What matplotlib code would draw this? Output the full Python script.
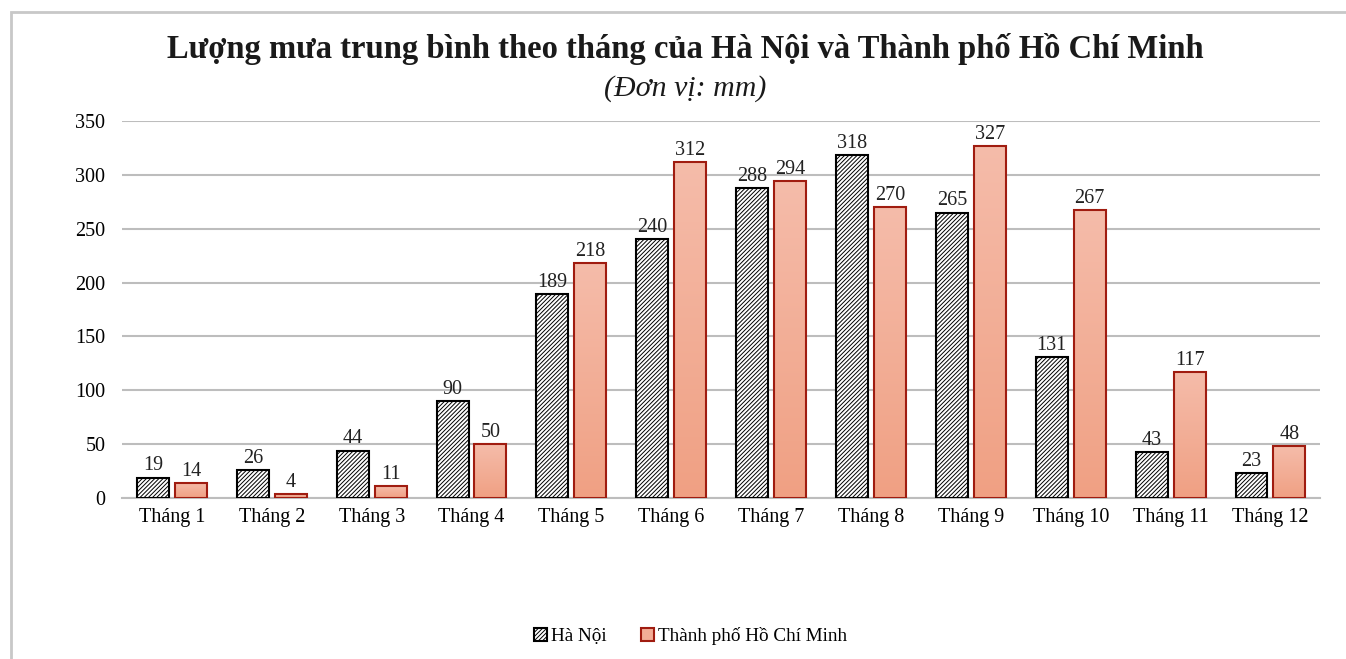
import numpy as np
import matplotlib
matplotlib.use("Agg")
import matplotlib.pyplot as plt
from matplotlib.patches import Rectangle, Patch
from matplotlib.colors import LinearSegmentedColormap

months = ["Tháng %d" % i for i in range(1, 13)]
ha_noi = [19, 26, 44, 90, 189, 240, 288, 318, 265, 131, 43, 23]
hcm = [14, 4, 11, 50, 218, 312, 294, 270, 327, 267, 117, 48]

plt.rcParams['font.family'] = ['Liberation Serif', 'DejaVu Serif']
plt.rcParams['hatch.linewidth'] = 0.7

fig = plt.figure(figsize=(13.46, 6.59), dpi=100)
ax = fig.add_axes([0.0906, 0.2443, 0.8904, 0.5721])

# khung ngoai
fig.patches.append(Rectangle((11 / 1346, -0.05), 1.1, 1 - 12 / 659 + 0.05,
                             transform=fig.transFigure, fill=False,
                             edgecolor='#c8c8c8', linewidth=2))

x = np.arange(len(months))
w = 0.32
off = 0.19
fs = 14.5

ax.bar(x - off, ha_noi, w, facecolor='white', edgecolor='black',
       hatch='////////', linewidth=1.5, zorder=3)

# gradient cho cot TP HCM
grad = np.linspace(0, 1, 256).reshape(-1, 1)
cmap = LinearSegmentedColormap.from_list('sal', ['#f0a083', '#f5bcaa'])
bars = ax.bar(x + off, hcm, w, facecolor='none', edgecolor='#a01c10',
              linewidth=1.5, zorder=4)
for b in bars:
    x0, h = b.get_x(), b.get_height()
    ax.imshow(grad, extent=(x0, x0 + w, 0, h), origin='lower', cmap=cmap,
              aspect='auto', zorder=3, interpolation='bicubic')

for i in range(len(months)):
    ax.text(x[i] - off, ha_noi[i] + 2, str(ha_noi[i]), ha='center', va='bottom',
            fontsize=fs, color='#222222')
    ax.text(x[i] + off, hcm[i] + 2, str(hcm[i]), ha='center', va='bottom',
            fontsize=fs, color='#222222')

ax.set_xlim(-0.5, 11.5)
ax.set_ylim(0, 350)
ax.set_yticks(range(0, 351, 50))
ax.set_xticks(x)
ax.set_xticklabels(months, fontsize=fs)
ax.tick_params(axis='y', labelsize=fs, length=0, pad=12)
ax.tick_params(axis='x', length=0, pad=7)
ax.grid(axis='y', color='#bdbdbd', linewidth=1.5, zorder=0)
ax.set_axisbelow(True)
for s in ['top', 'right', 'left']:
    ax.spines[s].set_visible(False)
ax.spines['bottom'].set_color('#bdbdbd')
ax.spines['bottom'].set_linewidth(1.5)

fig.text(0.509, 1 - 49 / 659, "Lượng mưa trung bình theo tháng của Hà Nội và Thành phố Hồ Chí Minh",
         ha='center', va='center', fontsize=23.5, fontweight='bold', color='#1a1a1a')
fig.text(0.509, 1 - 89 / 659, "(Đơn vị: mm)", ha='center', va='center',
         fontsize=21.5, style='italic', color='#1a1a1a')

handles = [Patch(facecolor='white', edgecolor='black', hatch='////////', linewidth=1.5, label='Hà Nội'),
           Patch(facecolor='#f3ad96', edgecolor='#a01c10', linewidth=1.5, label='Thành phố Hồ Chí Minh')]
fig.legend(handles=handles, loc='center', bbox_to_anchor=(0.513, 1 - 636 / 659),
           ncol=2, frameon=False, fontsize=13.8, handlelength=0.7, handleheight=0.7,
           handletextpad=0.2, columnspacing=1.8)

fig.savefig('out.png', dpi=100)
